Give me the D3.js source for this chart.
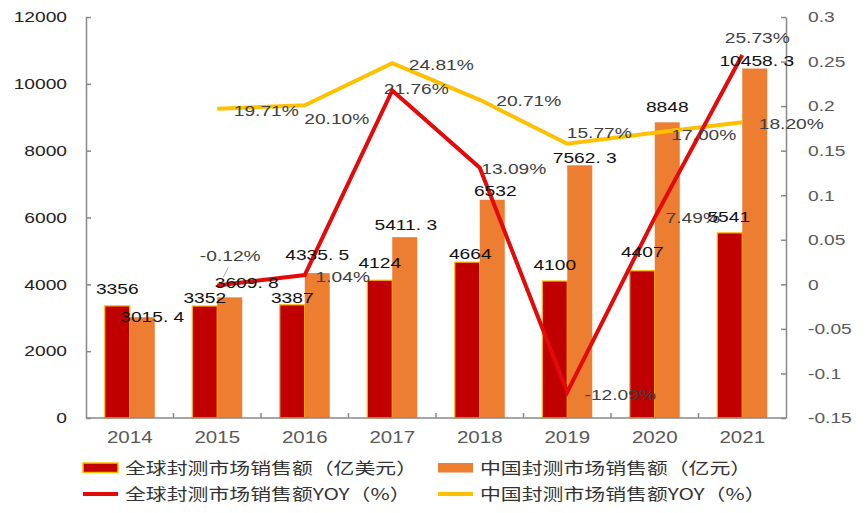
<!DOCTYPE html>
<html>
<head>
<meta charset="utf-8">
<script src="https://cdn.jsdelivr.net/npm/d3@7"></script>
<style>
  body { margin: 0; background: #fff; }
  text { font-family: "Liberation Sans", Arial, sans-serif; }
  .cjk { font-family: "Noto Sans CJK SC", sans-serif; }
</style>
</head>
<body>
<div id="chart"></div>
<script>
// Data
const years = ["2014", "2015", "2016", "2017", "2018", "2019", "2020", "2021"];
const globalSales = [3356, 3352, 3387, 4124, 4664, 4100, 4407, 5541];
const chinaSales = [3015.4, 3609.8, 4335.5, 5411.3, 6532, 7562.3, 8848, 10458.3];
const globalYoY = [null, -0.0012, 0.0104, 0.2176, 0.1309, -0.1209, 0.0749, 0.2573];
const chinaYoY = [null, 0.1971, 0.2010, 0.2481, 0.2071, 0.1577, 0.1700, 0.1820];
const leftTicks = [0, 2000, 4000, 6000, 8000, 10000, 12000];
const rightTicks = [-0.15, -0.1, -0.05, 0, 0.05, 0.1, 0.15, 0.2, 0.25, 0.3];
const legendNames = [
  "全球封测市场销售额（亿美元）", "中国封测市场销售额（亿元）",
  "全球封测市场销售额YOY（%）", "中国封测市场销售额YOY（%）"
];

// Label nudges (label centre relative to its anchor point), as placed in the original
const globalLabelNudge = [[0,-17],[0,-8],[0,-7],[0,-17],[3,-8],[0,-16],[0,-19],[-1,-16]];
const chinaLabelNudge = [[10,0],[17,-15],[0,-18],[1,-12],[3,-9],[5,-8],[0,-16],[2,-8]];
const globalYoYNudge = [null,[13,-30],[38,2],[24,-2],[34,1],[53,3],[38,0],[15,-17]];
const chinaYoYNudge = [null,[49,2],[32,14],[49,2],[49,1],[32,-11],[49,2],[49,2]];

const W = 865, H = 513;
const plot = { left: 86, right: 786, top: 17, bottom: 418 };
const SX = 1.28; // the original image is stretched horizontally

const colors = {
  globalBar: "#C00000", chinaBar: "#ED7D31",
  globalLine: "#E50A0A", chinaLine: "#FFC000",
  axis: "#898989"
};

const svg = d3.select("#chart").append("svg")
    .attr("width", W)
    .attr("height", H);

const x = d3.scaleBand()
    .domain(years)
    .range([plot.left, plot.right])
    .paddingInner(0.4286)
    .paddingOuter(0.2143);
const xSub = d3.scaleBand()
    .domain(["global", "china"])
    .range([0, x.bandwidth()]);
const y = d3.scaleLinear().domain([0, 12000]).range([plot.bottom, plot.top]);
const y2 = d3.scaleLinear().domain([-0.15, 0.3]).range([plot.bottom, plot.top]);

// stretched text helper
function label(g, px, py, str, opts) {
  const t = g.append("g")
      .attr("transform", `translate(${px},${py})`)
    .append("text")
      .attr("transform", `scale(${SX},1)`)
      .attr("text-anchor", opts.anchor || "middle")
      .attr("dy", "0.35em")
      .style("font-size", (opts.size || 15) + "px")
      .style("fill", opts.fill || "#000")
      .text(str);
  if (opts.cls) t.attr("class", opts.cls);
  return t;
}

// Bars
const bars = svg.append("g");
years.forEach((yr, i) => {
  bars.append("rect")
      .attr("x", x(yr) + xSub("global"))
      .attr("y", y(globalSales[i]))
      .attr("width", xSub.bandwidth())
      .attr("height", y(0) - y(globalSales[i]))
      .style("fill", colors.globalBar)
      .style("stroke", colors.chinaLine)
      .style("stroke-width", 1.2);
  bars.append("rect")
      .attr("x", x(yr) + xSub("china"))
      .attr("y", y(chinaSales[i]))
      .attr("width", xSub.bandwidth())
      .attr("height", y(0) - y(chinaSales[i]))
      .style("fill", colors.chinaBar);
});

// Axes
const axes = svg.append("g");
const leftAxis = axes.append("g")
    .attr("transform", `translate(${plot.left},0)`)
    .call(d3.axisLeft(y).tickValues(leftTicks).tickSize(-5).tickSizeOuter(0).tickPadding(19)
      .tickFormat(d => String(d)));
const rightAxis = axes.append("g")
    .attr("transform", `translate(${plot.right},0)`)
    .call(d3.axisRight(y2).tickValues(rightTicks).tickSize(-5).tickSizeOuter(0).tickPadding(22)
      .tickFormat(d => String(+d.toFixed(2))));
const bottomAxis = axes.append("g")
    .attr("transform", `translate(0,${plot.bottom})`)
    .call(d3.axisBottom(x).tickSize(0).tickPadding(14));

[leftAxis, rightAxis, bottomAxis].forEach(a => {
  a.select(".domain").style("stroke", colors.axis).style("stroke-width", 1.5);
  a.selectAll(".tick line").style("stroke", colors.axis).style("stroke-width", 1.5);
});
leftAxis.selectAll(".tick text")
    .attr("transform", function() { return `translate(${d3.select(this).attr("x")},0) scale(${SX},1)`; })
    .attr("x", 0)
    .style("font-size", "15px").style("fill", "#222");
rightAxis.selectAll(".tick text")
    .attr("transform", function() { return `translate(${d3.select(this).attr("x")},0) scale(${SX},1)`; })
    .attr("x", 0)
    .style("font-size", "15px").style("fill", "#595959");
bottomAxis.selectAll(".tick text")
    .attr("transform", `scale(${SX},1)`)
    .style("font-size", "16px").style("fill", "#595959");
bottomAxis.select(".domain").attr("d", `M${plot.left},0H${plot.right}`);

// category boundary ticks on the x axis
d3.range(1, years.length).forEach(k => {
  const bx = plot.left + k * x.step();
  axes.append("line")
      .attr("x1", bx).attr("x2", bx)
      .attr("y1", plot.bottom).attr("y2", plot.bottom - 5)
      .style("stroke", colors.axis)
      .style("stroke-width", 1.5);
});

// Lines
const cx = yr => x(yr) + x.bandwidth() / 2;
const lineGen = d3.line()
    .defined(d => d.v !== null)
    .x(d => cx(d.yr))
    .y(d => y2(d.v));

svg.append("path")
    .datum(years.map((yr, i) => ({ yr, v: chinaYoY[i] })))
    .attr("d", lineGen)
    .style("fill", "none")
    .style("stroke", colors.chinaLine)
    .style("stroke-width", 4)
    .style("stroke-linejoin", "miter");

svg.append("path")
    .datum(years.map((yr, i) => ({ yr, v: globalYoY[i] })))
    .attr("d", lineGen)
    .style("fill", "none")
    .style("stroke", colors.globalLine)
    .style("stroke-width", 4)
    .style("stroke-linejoin", "miter");

// Data labels
const labels = svg.append("g");
const fmtBar = d => Number.isInteger(d) ? String(d) : d.toFixed(1).replace(".", ". ");
const fmtPct = d => (d * 100).toFixed(2) + "%";

years.forEach((yr, i) => {
  const gx = x(yr) + xSub("global") + xSub.bandwidth() / 2;
  const chx = x(yr) + xSub("china") + xSub.bandwidth() / 2;
  label(labels, gx + globalLabelNudge[i][0], y(globalSales[i]) + globalLabelNudge[i][1],
        fmtBar(globalSales[i]), { size: 15, fill: "#111" });
  label(labels, chx + chinaLabelNudge[i][0], y(chinaSales[i]) + chinaLabelNudge[i][1],
        fmtBar(chinaSales[i]), { size: 15, fill: "#111" });
  if (chinaYoY[i] !== null) {
    label(labels, cx(yr) + chinaYoYNudge[i][0], y2(chinaYoY[i]) + chinaYoYNudge[i][1],
          fmtPct(chinaYoY[i]), { size: 15, fill: "#404040" });
  }
  if (globalYoY[i] !== null) {
    label(labels, cx(yr) + globalYoYNudge[i][0], y2(globalYoY[i]) + globalYoYNudge[i][1],
          fmtPct(globalYoY[i]), { size: 15, fill: "#404040" });
  }
});

// leader line for the -0.12% label
{
  const px = cx(years[1]), py = y2(globalYoY[1]);
  labels.append("line")
      .attr("x1", px + globalYoYNudge[1][0] - 2).attr("y1", py + globalYoYNudge[1][1] + 12)
      .attr("x2", px + 6).attr("y2", py - 8)
      .style("stroke", "#a6a6a6")
      .style("stroke-width", 1);
}

// Legend
const legend = svg.append("g");
const legendCols = [83, 438];
const legendRows = [468, 494];
legendNames.forEach((name, i) => {
  const lx = legendCols[i % 2], ly = legendRows[Math.floor(i / 2)];
  if (i < 2) {
    legend.append("rect")
        .attr("x", lx).attr("y", ly - 5)
        .attr("width", 35).attr("height", 9.5)
        .style("fill", i === 0 ? colors.globalBar : colors.chinaBar)
        .style("stroke", i === 0 ? colors.chinaLine : "none")
        .style("stroke-width", 1.5);
  } else {
    legend.append("line")
        .attr("x1", lx).attr("x2", lx + 35)
        .attr("y1", ly).attr("y2", ly)
        .style("stroke", i === 2 ? colors.globalLine : colors.chinaLine)
        .style("stroke-width", 4);
  }
  label(legend, lx + 42, ly, name, { anchor: "start", size: 16.3, fill: "#333", cls: "cjk" });
});
</script>
</body>
</html>
